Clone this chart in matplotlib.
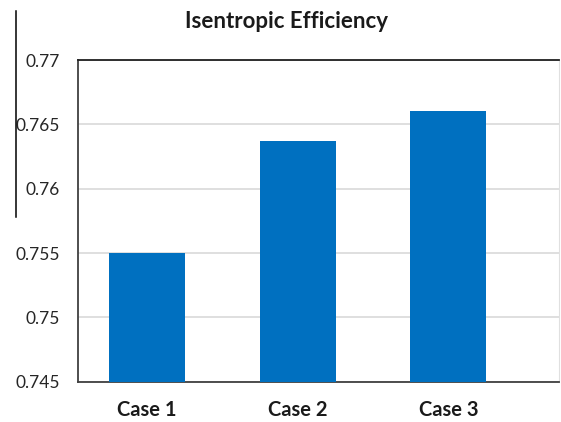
import matplotlib.pyplot as plt
from matplotlib.lines import Line2D

cases = ["Case 1", "Case 2", "Case 3"]
efficiency = [0.755, 0.7637, 0.7660]
yticks = [0.745, 0.75, 0.755, 0.76, 0.765, 0.77]
ytick_labels = ["0.745", "0.75", "0.755", "0.76", "0.765", "0.77"]

plt.rcParams["font.family"] = ["Lato", "DejaVu Sans"]

fig = plt.figure(figsize=(5.61, 4.22), dpi=100)
ax = fig.add_axes([0.139, 0.0955, 0.8574, 0.7623])

xs = list(range(len(cases)))
ax.bar(xs, efficiency, width=0.505, color="#0070C0", zorder=3)

ax.set_ylim(0.745, 0.77)
ax.set_xlim(-0.46, 2.735)
ax.set_yticks(yticks)
ax.set_yticklabels(ytick_labels, fontsize=12.5, color="#262626")
ax.set_xticks(xs)
ax.set_xticklabels(cases, fontsize=14.5, fontweight="bold", color="#1a1a1a")
ax.tick_params(axis="y", length=0, pad=13)
ax.tick_params(axis="x", length=0, pad=13)

ax.grid(axis="y", color="#d9d9d9", linewidth=1.2, zorder=0)
ax.spines["left"].set_color("#404040")
ax.spines["left"].set_linewidth(1.3)
ax.spines["bottom"].set_color("#404040")
ax.spines["bottom"].set_linewidth(1.3)
ax.spines["top"].set_color("#202020")
ax.spines["top"].set_linewidth(1.3)
ax.spines["right"].set_color("#e0e0e0")
ax.spines["right"].set_linewidth(0.8)

fig.text(0.51, 0.948, "Isentropic Efficiency", ha="center", va="center",
         fontsize=16, fontweight="bold", color="#1a1a1a")

# thin vertical rule at the left edge
fig.add_artist(Line2D([15.5 / 561, 15.5 / 561], [1 - 11 / 422, 1 - 217 / 422],
                      transform=fig.transFigure, color="black", linewidth=1.1))

fig.savefig("out.png", dpi=100)
